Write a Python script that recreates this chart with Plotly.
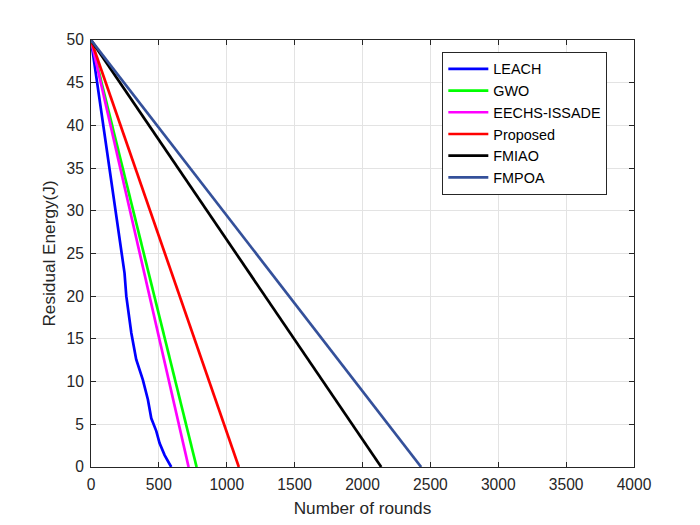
import plotly.graph_objects as go

leach_x = [0, 211, 247, 260, 297, 333, 382, 419, 444, 481, 505, 542, 591]
leach_y = [50, 26.6, 22.7, 20.0, 15.7, 12.6, 10.2, 7.9, 5.7, 4.2, 2.8, 1.4, 0]
gwo_x = [0, 778]
gwo_y = [50, 0]
eechs_x = [0, 719]
eechs_y = [50, 0]
prop_x = [0, 1089]
prop_y = [50, 0]
fmiao_x = [0, 2138]
fmiao_y = [50, 0]
fmpoa_x = [0, 2432]
fmpoa_y = [50, 0]

series = [
    ("LEACH", leach_x, leach_y, "#0000FF"),
    ("GWO", gwo_x, gwo_y, "#00FF00"),
    ("EECHS-ISSADE", eechs_x, eechs_y, "#FF00FF"),
    ("Proposed", prop_x, prop_y, "#FF0000"),
    ("FMIAO", fmiao_x, fmiao_y, "#000000"),
    ("FMPOA", fmpoa_x, fmpoa_y, "#34509A"),
]

x_ticks = list(range(0, 4001, 500))
y_ticks = list(range(0, 51, 5))

fig = go.Figure()
for name, xs, ys, col in series:
    fig.add_trace(go.Scatter(x=xs, y=ys, mode="lines", name=name,
                             line=dict(color=col, width=2.7)))

font = "Arial, Liberation Sans, sans-serif"
axis_common = dict(
    showline=True, linecolor="#262626", linewidth=1, mirror="ticks",
    ticks="inside", ticklen=5, tickcolor="#262626",
    showgrid=True, gridcolor="#E3E3E3", gridwidth=1,
    zeroline=False, tickfont=dict(family=font, size=15.6, color="#262626"),
    ticklabelstandoff=3, automargin=False,
)

fig.update_layout(
    width=700, height=525,
    margin=dict(l=91, r=66, t=40, b=58),
    paper_bgcolor="white", plot_bgcolor="white",
    font=dict(family=font, size=15.6, color="#262626"),
    xaxis=dict(range=[0, 4000], tickvals=x_ticks,
               title=dict(text="Number of rounds", font=dict(size=17.2), standoff=10), **axis_common),
    yaxis=dict(range=[0, 50], tickvals=y_ticks,
               title=dict(text="Residual Energy(J)", font=dict(size=17.2), standoff=6), **axis_common),
    legend=dict(x=0.647, y=0.972, xanchor="left", yanchor="top",
                bordercolor="#262626", borderwidth=1, bgcolor="white",
                font=dict(family=font, size=14.4, color="black"),
                tracegroupgap=0, itemwidth=40),
    showlegend=True,
)

fig.write_html("out.html")
